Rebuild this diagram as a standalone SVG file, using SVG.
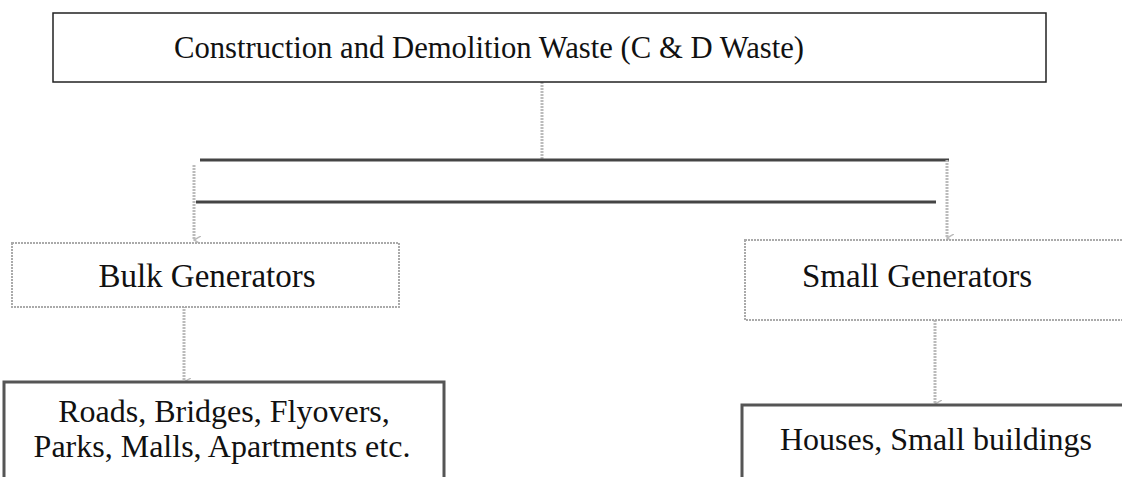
<svg xmlns="http://www.w3.org/2000/svg" width="1122" height="477" viewBox="0 0 1122 477">
<style>
  .t { font-family: "Liberation Serif", "Times New Roman", serif; fill: #111; }
  .main { fill: #fff; stroke: #222; stroke-width: 1.5; }
  .faint { fill: #fff; stroke: #aaa; stroke-width: 2; stroke-dasharray: 2 1; }
  .dark { fill: #fff; stroke: #555; stroke-width: 3; }
  .hline { stroke: #444; stroke-width: 3; fill: none; }
  .vline { stroke: #bbb; stroke-width: 3; stroke-dasharray: 2 1; fill: none; }
</style>
<defs>
  <marker id="ah" markerWidth="8" markerHeight="8" refX="4" refY="7" orient="auto" markerUnits="userSpaceOnUse" viewBox="0 0 8 8">
    <path d="M0,0 L4,7 L8,0" fill="none" stroke="#bbb" stroke-width="1.5"/>
  </marker>
</defs>
<rect width="1122" height="477" fill="#fff"/>
<g id="connectors">
  <line class="vline" x1="542" y1="82" x2="542" y2="160"/>
  <line class="hline" x1="200" y1="160" x2="949" y2="160"/>
  <line class="hline" x1="196" y1="202" x2="936" y2="202"/>
  <line class="vline" x1="194" y1="165" x2="194" y2="240" marker-end="url(#ah)"/>
  <line class="vline" x1="947" y1="160" x2="947" y2="238" marker-end="url(#ah)"/>
  <line class="vline" x1="184" y1="306" x2="184" y2="382" marker-end="url(#ah)"/>
  <line class="vline" x1="935" y1="320" x2="935" y2="404" marker-end="url(#ah)"/>
</g>
<g id="node-cd">
  <rect class="main" x="53" y="13" width="993" height="69"/>
  <text class="t" x="174" y="58" font-size="32" textLength="630" lengthAdjust="spacingAndGlyphs">Construction and Demolition Waste (C &amp; D Waste)</text>
</g>
<g id="node-bulk">
  <rect class="faint" x="12" y="243" width="387" height="64"/>
  <text class="t" x="207" y="287" text-anchor="middle" font-size="33">Bulk Generators</text>
</g>
<g id="node-small">
  <rect class="faint" x="745" y="240" width="380" height="80"/>
  <text class="t" x="917" y="287" text-anchor="middle" font-size="33">Small Generators</text>
</g>
<g id="node-roads">
  <rect class="dark" x="4" y="382" width="440" height="110"/>
  <text class="t" x="224" y="422" text-anchor="middle" font-size="32">Roads, Bridges, Flyovers,</text>
  <text class="t" x="222" y="457" text-anchor="middle" font-size="32">Parks, Malls, Apartments etc.</text>
</g>
<g id="node-houses">
  <rect class="dark" x="742" y="405" width="390" height="90"/>
  <text class="t" x="936" y="450" text-anchor="middle" font-size="32">Houses, Small buildings</text>
</g>
</svg>
